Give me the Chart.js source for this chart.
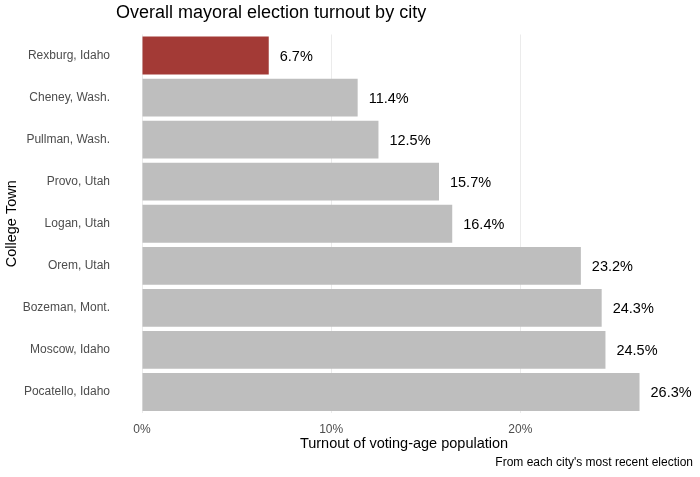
<!DOCTYPE html>
<html>
<head>
<meta charset="utf-8">
<script src="https://cdn.jsdelivr.net/npm/chart.js@4"></script>
<style>
  html, body { margin: 0; padding: 0; background: #fff; }
  #wrap { width: 700px; height: 477px; position: relative; }
</style>
</head>
<body>
<div id="wrap"><canvas id="c" width="700" height="477"></canvas></div>
<script>
const cities = ["Rexburg, Idaho", "Cheney, Wash.", "Pullman, Wash.", "Provo, Utah", "Logan, Utah", "Orem, Utah", "Bozeman, Mont.", "Moscow, Idaho", "Pocatello, Idaho"];
const turnout = [6.7, 11.4, 12.5, 15.7, 16.4, 23.2, 24.3, 24.5, 26.3];
const highlightCity = "Rexburg, Idaho";
const xTicks = [0, 10, 20];
const titleText = "Overall mayoral election turnout by city";
const xTitle = "Turnout of voting-age population";
const yTitle = "College Town";
const captionText = "From each city's most recent election";

const FONT = "'Liberation Sans', Arial, sans-serif";

const overlay = {
  id: 'overlay',
  afterDatasetsDraw(chart) {
    const ctx = chart.ctx;
    const meta = chart.getDatasetMeta(0);
    ctx.save();
    ctx.font = "14.5px " + FONT;
    ctx.fillStyle = "#000";
    ctx.textAlign = "left";
    ctx.textBaseline = "middle";
    meta.data.forEach((bar, i) => {
      ctx.fillText(turnout[i].toFixed(1) + "%", bar.x + 11, bar.y + 1);
    });
    ctx.restore();
  },
  afterDraw(chart) {
    const ctx = chart.ctx;
    ctx.save();
    ctx.fillStyle = "#000";
    ctx.font = "18px " + FONT;
    ctx.textAlign = "left";
    ctx.textBaseline = "middle";
    ctx.fillText(titleText, 116, 13);
    ctx.font = "12px " + FONT;
    ctx.textAlign = "right";
    ctx.fillText(captionText, 693, 463);
    ctx.restore();
  }
};

new Chart(document.getElementById('c'), {
  type: 'bar',
  data: {
    labels: cities,
    datasets: [{
      data: turnout,
      backgroundColor: cities.map(c => c === highlightCity ? "#A33A36" : "#BEBEBE"),
      borderWidth: 0,
      barPercentage: 0.9,
      categoryPercentage: 1.0
    }]
  },
  options: {
    indexAxis: 'y',
    responsive: false,
    animation: false,
    devicePixelRatio: 1,
    layout: { padding: { top: 34.5, right: 34, bottom: 0, left: 0 } },
    plugins: { legend: { display: false }, tooltip: { enabled: false }, title: { display: false } },
    scales: {
      x: {
        type: 'linear',
        min: 0,
        max: 27.7,
        afterFit(s) { s.height = 64; },
        afterBuildTicks(s) { s.ticks = xTicks.map(v => ({ value: v })); },
        ticks: {
          callback: v => v + "%",
          color: "#4D4D4D",
          font: { family: FONT, size: 12 },
          padding: 9
        },
        grid: { color: "#EBEBEB", lineWidth: 1, drawTicks: false },
        border: { display: false },
        title: {
          display: true,
          text: xTitle,
          color: "#000",
          font: { family: FONT, size: 14.5 },
          padding: { top: 0, bottom: 24.5 }
        }
      },
      y: {
        type: 'category',
        offset: true,
        afterFit(s) { s.width = 142; },
        ticks: {
          color: "#4D4D4D",
          font: { family: FONT, size: 12 },
          padding: 0
        },
        grid: { display: false, drawTicks: true, tickLength: 32 },
        border: { display: false },
        title: {
          display: true,
          text: yTitle,
          color: "#000",
          font: { family: FONT, size: 14.5 },
          padding: { top: 3.3, bottom: 0 }
        }
      }
    }
  },
  plugins: [overlay]
});
</script>
</body>
</html>
